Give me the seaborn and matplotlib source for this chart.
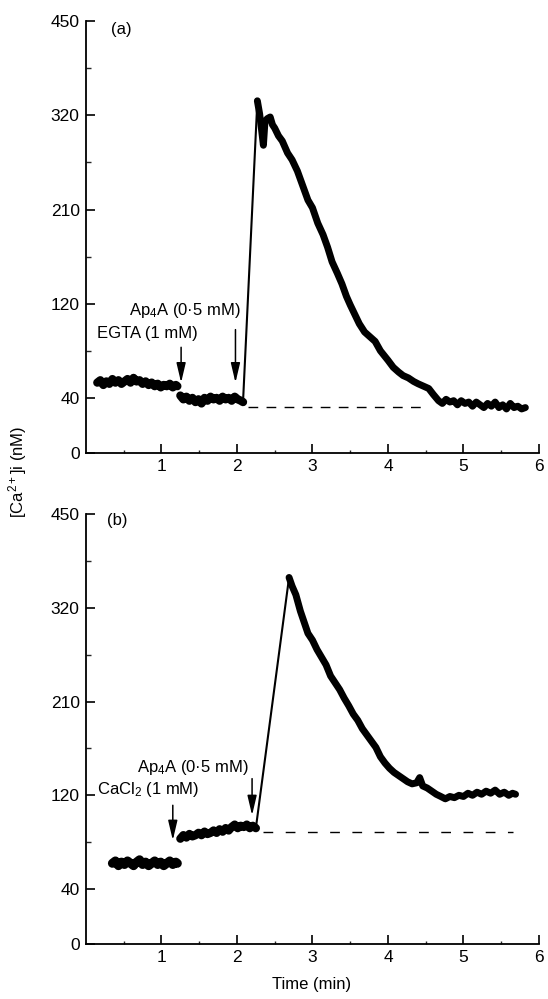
import numpy as np
import matplotlib
matplotlib.use("Agg")
import matplotlib.pyplot as plt
import seaborn as sns

# ==========================================
# DATA
# ==========================================
# calibrated [Ca2+]i axis: ticks are not linear, so keep their relative heights
Y_TICKS = [0, 40, 120, 210, 320, 450]
Y_TICK_POS = [0, 0.585, 1.585, 2.585, 3.585, 4.585]
Y_MINOR = [80, 165, 265, 385]
X_TICKS = [1, 2, 3, 4, 5, 6]
X_MINOR = [0.5, 1.5, 2.5, 3.5, 4.5, 5.5]

# --- panel (a): EGTA (1 mM) then Ap4A (0.5 mM)
a_pre_t = [0.15, 0.19, 0.23, 0.27, 0.31, 0.35, 0.39, 0.43, 0.47, 0.51, 0.55, 0.59, 0.63, 0.67,
           0.71, 0.75, 0.79, 0.83, 0.87, 0.91, 0.95, 0.99, 1.03, 1.07, 1.11, 1.15, 1.19, 1.21]
a_pre_ca = [53, 55, 51, 54, 52, 56, 53, 55, 52, 54, 56, 53, 57, 54,
            55, 52, 54, 51, 53, 50, 52, 49, 51, 50, 52, 49, 51, 50]

a_egta_t = [1.25, 1.29, 1.33, 1.37, 1.41, 1.45, 1.49, 1.53, 1.57, 1.61, 1.65,
            1.69, 1.73, 1.77, 1.81, 1.85, 1.89, 1.93, 1.97, 2.01, 2.05, 2.08]
a_egta_ca = [42, 39, 41, 38, 40, 37, 39, 36, 40, 38, 41,
             39, 40, 38, 41, 39, 40, 38, 41, 39, 38, 37]

a_rise_t = [2.08, 2.27]
a_rise_ca = [37, 340]

a_resp_t = [2.27, 2.30, 2.33, 2.35, 2.37, 2.40, 2.44, 2.47, 2.50, 2.55, 2.60, 2.67, 2.73, 2.80,
            2.87, 2.94, 3.00, 3.07, 3.14, 3.20, 3.26, 3.33, 3.39, 3.45, 3.50, 3.56, 3.62, 3.69,
            3.76, 3.83, 3.90, 4.00, 4.07, 4.14, 4.20, 4.27, 4.34, 4.40, 4.47, 4.54, 4.60, 4.67,
            4.72, 4.77, 4.82, 4.87, 4.92, 4.97, 5.02, 5.07, 5.12, 5.17, 5.22, 5.27, 5.32, 5.37,
            5.42, 5.47, 5.52, 5.57, 5.62, 5.67, 5.72, 5.77, 5.82]
a_resp_ca = [340, 322, 300, 285, 312, 316, 318, 309, 305, 296, 290, 276, 268, 255,
             238, 221, 212, 197, 186, 174, 160, 149, 139, 127, 119, 111, 103, 96,
             92, 88, 80, 72, 66, 62, 59, 57, 54, 52, 50, 48, 43, 38,
             36, 39, 37, 38, 35, 38, 36, 37, 34, 37, 35, 33, 36, 34,
             37, 33, 35, 32, 36, 33, 34, 32, 33]

a_dash_t = [2.14, 4.45]
a_dash_ca = 33.7
a_add_t = [1.26, 1.98]            # EGTA, Ap4A additions (min)

# --- panel (b): CaCl2 (1 mM) then Ap4A (0.5 mM)
b_pre_t = [0.35, 0.39, 0.43, 0.47, 0.51, 0.55, 0.59, 0.63, 0.67, 0.71, 0.75, 0.79,
           0.83, 0.87, 0.91, 0.95, 0.99, 1.03, 1.07, 1.11, 1.15, 1.19, 1.21]
b_pre_ca = [62, 64, 60, 63, 61, 64, 62, 60, 63, 65, 61, 63,
            60, 62, 64, 61, 63, 60, 62, 64, 61, 63, 62]

b_cacl_t = [1.25, 1.29, 1.33, 1.37, 1.41, 1.45, 1.49, 1.53, 1.57, 1.61, 1.65, 1.69, 1.73,
            1.77, 1.81, 1.85, 1.89, 1.93, 1.97, 2.01, 2.05, 2.09, 2.13, 2.17, 2.21, 2.25]
b_cacl_ca = [83, 86, 84, 87, 85, 86, 88, 86, 89, 87, 88, 90, 88,
             91, 89, 92, 90, 93, 95, 92, 94, 93, 95, 92, 94, 92]

b_rise_t = [2.25, 2.69]
b_rise_ca = [92, 362]

b_resp_t = [2.69, 2.73, 2.78, 2.84, 2.89, 2.94, 3.00, 3.06, 3.12, 3.18, 3.24, 3.30, 3.36,
            3.42, 3.48, 3.54, 3.60, 3.66, 3.72, 3.78, 3.84, 3.90, 3.96, 4.02, 4.08, 4.14,
            4.20, 4.26, 4.32, 4.38, 4.42, 4.46, 4.52, 4.58, 4.64, 4.70, 4.76, 4.82, 4.88,
            4.94, 5.00, 5.06, 5.12, 5.18, 5.24, 5.30, 5.36, 5.42, 5.48, 5.54, 5.60, 5.65, 5.69]
b_resp_ca = [362, 350, 338, 316, 303, 290, 282, 271, 262, 253, 240, 232, 224,
             214, 206, 198, 192, 184, 178, 172, 166, 157, 151, 146, 142, 139,
             136, 133, 131, 132, 137, 129, 127, 124, 121, 119, 117, 119, 118,
             120, 119, 122, 120, 123, 121, 124, 122, 125, 121, 123, 120, 122, 121]

b_dash_t = [2.35, 5.66]
b_dash_ca = 89
b_add_t = [1.15, 2.20]            # CaCl2, Ap4A additions (min)


def ca_fwd(v):
    return np.interp(v, Y_TICKS, Y_TICK_POS)


def ca_inv(p):
    return np.interp(p, Y_TICK_POS, Y_TICKS)


def style_axis(ax):
    ax.set_yscale('function', functions=(ca_fwd, ca_inv))
    ax.set_xlim(0, 6)
    ax.set_ylim(0, 450)
    ax.set_xticks(X_TICKS)
    ax.set_xticks(X_MINOR, minor=True)
    ax.set_yticks(Y_TICKS)
    ax.set_yticks(Y_MINOR, minor=True)
    ax.set_yticklabels([str(v) for v in Y_TICKS])
    ax.set_xticklabels([str(v) for v in X_TICKS])
    sns.despine(ax=ax)
    for s in ['left', 'bottom']:
        ax.spines[s].set_linewidth(1.3)
        ax.spines[s].set_color('black')
    ax.tick_params(axis='both', colors='black', labelcolor='black')
    ax.tick_params(axis='x', which='major', direction='in', length=6.5, width=1.2, pad=4, labelsize=12.5)
    ax.tick_params(axis='x', which='minor', direction='in', length=2.5, width=1.0)
    ax.tick_params(axis='y', which='major', direction='in', length=6.5, width=1.2, pad=4.5, labelsize=12.5)
    ax.tick_params(axis='y', which='minor', direction='in', length=3.5, width=1.0)
    ax.set_xlabel('')
    ax.set_ylabel('')


def trace(ax, t, ca, lw):
    sns.lineplot(x=t, y=ca, ax=ax, color='black', lw=lw, sort=False,
                 estimator=None, legend=False)


def arrow(ax, t, tail, tip):
    ax.annotate('', xy=(t, tip), xytext=(t, tail),
                arrowprops=dict(arrowstyle='-|>,head_length=0.85,head_width=0.2',
                                color='black', lw=1.1, mutation_scale=14,
                                shrinkA=0, shrinkB=0))


sns.set_style('ticks')
plt.rcParams['font.family'] = ['Liberation Sans', 'DejaVu Sans']
plt.rcParams['mathtext.default'] = 'regular'
plt.rcParams['text.color'] = 'black'

fig = plt.figure(figsize=(5.48, 9.99), dpi=100)
ax_a = fig.add_axes([0.1569, 0.5465, 0.8266, 0.4324])
ax_b = fig.add_axes([0.1569, 0.0551, 0.8266, 0.4304])

# ---- panel (a)
trace(ax_a, a_pre_t, a_pre_ca, 6.0)
trace(ax_a, a_egta_t, a_egta_ca, 6.0)
trace(ax_a, a_rise_t, a_rise_ca, 1.5)
trace(ax_a, a_resp_t, a_resp_ca, 5.0)
ax_a.hlines(a_dash_ca, a_dash_t[0], a_dash_t[1], color='black', lw=1.0, linestyles=(0, (7, 6)))
arrow(ax_a, a_add_t[0], 83, 53)
arrow(ax_a, a_add_t[1], 98, 53)
ax_a.text(2.05, 114, 'Ap$_4$A (0·5 mM)', ha='right', va='center', fontsize=12)
ax_a.text(0.15, 94.5, 'EGTA (1 mM)', ha='left', va='center', fontsize=12)
style_axis(ax_a)

# ---- panel (b)
trace(ax_b, b_pre_t, b_pre_ca, 6.5)
trace(ax_b, b_cacl_t, b_cacl_ca, 6.0)
trace(ax_b, b_rise_t, b_rise_ca, 1.5)
trace(ax_b, b_resp_t, b_resp_ca, 5.0)
ax_b.hlines(b_dash_ca, b_dash_t[0], b_dash_t[1], color='black', lw=1.0, linestyles=(0, (7, 9)))
arrow(ax_b, b_add_t[0], 111.5, 81.7)
arrow(ax_b, b_add_t[1], 136, 103)
ax_b.text(0.68, 146.8, 'Ap$_4$A (0·5 mM)', ha='left', va='center', fontsize=12)
ax_b.text(0.15, 125.5, 'CaCl$_2$ (1 mM)', ha='left', va='center', fontsize=12)
style_axis(ax_b)

# panel letters and shared labels
fig.text(121 / 548, 1 - 29.5 / 999, '(a)', ha='center', va='center', fontsize=12)
fig.text(117 / 548, 1 - 521 / 999, '(b)', ha='center', va='center', fontsize=12)
fig.text(18 / 548, 1 - 472 / 999, '[Ca$^{2+}$]i (nM)', rotation=90, ha='center', va='center', fontsize=12)
fig.text(312 / 548, 1 - 985 / 999, 'Time (min)', ha='center', va='center', fontsize=12)

fig.savefig('out.png', dpi=100)
